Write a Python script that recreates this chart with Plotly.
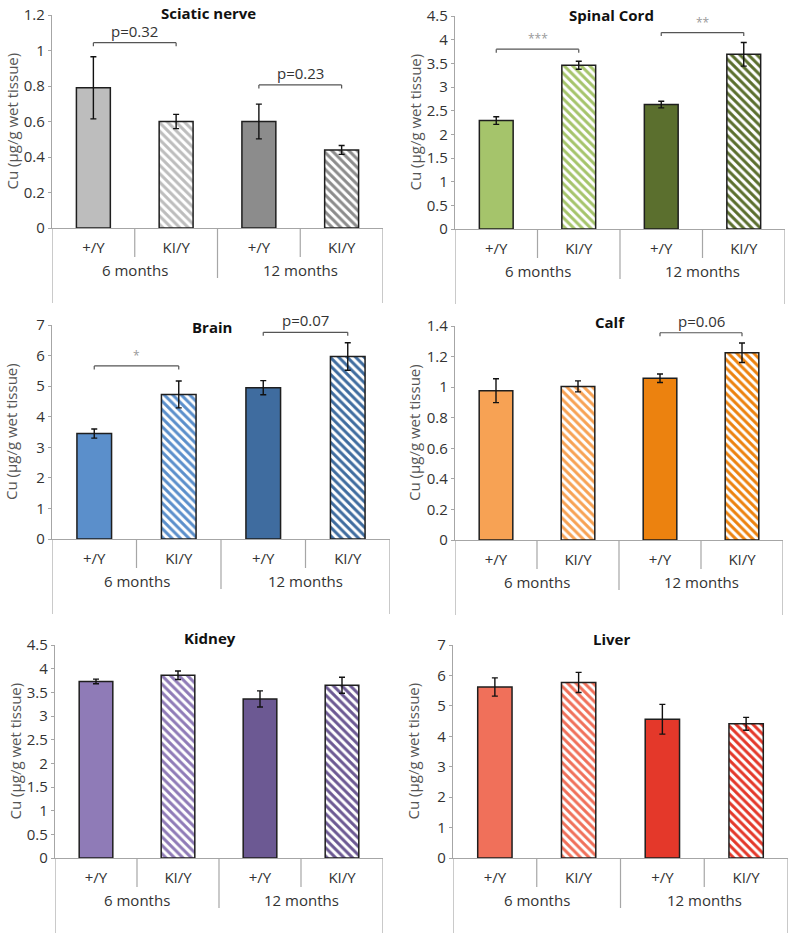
import plotly.graph_objects as go

# ---------------- data ----------------
genotypes = ["+/Y", "KI/Y", "+/Y", "KI/Y"]
ages = ["6 months", "12 months"]
tissues = ["Sciatic nerve", "Spinal Cord", "Brain", "Calf", "Kidney", "Liver"]

sciatic_mean = [0.79, 0.60, 0.60, 0.44]
sciatic_err = [0.175, 0.04, 0.098, 0.025]
spinal_mean = [2.29, 3.46, 2.63, 3.69]
spinal_err = [0.08, 0.085, 0.07, 0.25]
brain_mean = [3.45, 4.73, 4.95, 5.97]
brain_err = [0.15, 0.44, 0.23, 0.45]
calf_mean = [0.977, 1.005, 1.058, 1.225]
calf_err = [0.078, 0.036, 0.028, 0.064]
kidney_mean = [3.73, 3.86, 3.36, 3.65]
kidney_err = [0.05, 0.09, 0.17, 0.17]
liver_mean = [5.62, 5.77, 4.56, 4.41]
liver_err = [0.30, 0.33, 0.49, 0.21]

y_max = [1.2, 4.5, 7, 1.4, 4.5, 7]
y_step = [0.2, 0.5, 1, 0.2, 0.5, 1]

# significance brackets: (panel, left bar, right bar, bracket level, label)
sig_panel = [0, 0, 1, 1, 2, 2, 3]
sig_left = [0, 2, 0, 2, 0, 2, 2]
sig_right = [1, 3, 1, 3, 1, 3, 3]
sig_level = [1.044, 0.806, 3.80, 4.15, 5.66, 6.76, 1.356]
sig_label = ["p=0.32", "p=0.23", "***", "**", "*", "p=0.07", "p=0.06"]

means = [sciatic_mean, spinal_mean, brain_mean, calf_mean, kidney_mean, liver_mean]
errs = [sciatic_err, spinal_err, brain_err, calf_err, kidney_err, liver_err]

# ---------------- styling ----------------
light = ["#BDBDBD", "#A5C46B", "#5B8FCB", "#F7A254", "#8F7BB7", "#F0705A"]
dark = ["#8C8C8C", "#5B6F2E", "#3F6C9F", "#EC820F", "#6C5993", "#E4382A"]

W, H = 800, 941
# pixel geometry of each panel: (x_left, x_right, y_top, y_zero)
geom = [(52, 383, 15, 228), (455, 785, 16, 229),
        (52, 390, 325, 539), (455, 783, 326, 540),
        (55, 383, 645, 858), (453, 788, 645, 858)]
# vertical pixel shift of each panel title relative to the plot top
title_dy = [-2, -1, 2, -4, -7, -6]

FONT = "Open Sans"
AXC = "#A6A6A6"
TXT = "#333333"

fig = go.Figure()
shapes = []
annotations = []

for i in range(6):
    xl, xr, yt, yz = geom[i]
    sfx = "" if i == 0 else str(i + 1)
    xa, ya = "x" + sfx, "y" + sfx
    ph = yz - yt

    for j in range(4):
        col = light[i] if j < 2 else dark[i]
        hatched = (j % 2 == 1)
        if hatched:
            mk = dict(color="white", line=dict(color="#1e1e1e", width=1.5),
                      pattern=dict(shape="\\", fgcolor=col, bgcolor="white",
                                   fgopacity=1, size=6, solidity=0.5,
                                   fillmode="replace"))
        else:
            mk = dict(color=col, line=dict(color="#1e1e1e", width=1.5))
        fig.add_trace(go.Bar(
            x=[j], y=[means[i][j]], width=0.41, marker=mk,
            error_y=dict(type="data", array=[errs[i][j]], color="#111111",
                         thickness=1.4, width=3),
            xaxis=xa, yaxis=ya, showlegend=False, hoverinfo="skip",
        ))

    xdom = [xl / W, xr / W]
    ydom = [1 - yz / H, 1 - yt / H]
    nticks = int(round(y_max[i] / y_step[i]))
    tv = [round(k * y_step[i], 3) for k in range(nticks + 1)]
    fig.layout["xaxis" + sfx] = dict(
        domain=xdom, anchor=ya, range=[-0.5, 3.5], automargin=False,
        tickvals=[0, 1, 2, 3], ticktext=genotypes, ticks="",
        ticklabelstandoff=6, ticklabeloverflow="allow",
        showline=True, linecolor=AXC, linewidth=1.2,
        showgrid=False, zeroline=False,
        tickfont=dict(family=FONT, size=15, color=TXT), fixedrange=True)
    fig.layout["yaxis" + sfx] = dict(
        domain=ydom, anchor=xa, range=[0, y_max[i]], automargin=False,
        tickvals=tv, ticks="outside", ticklen=3, tickcolor=AXC,
        ticklabeloverflow="allow",
        showline=True, linecolor=AXC, linewidth=1.2,
        showgrid=False, zeroline=False,
        tickfont=dict(family=FONT, size=15, color=TXT),
        fixedrange=True)

    dref = ya + " domain"
    # y-axis title
    annotations.append(dict(xref=xa + " domain", yref=dref, x=0, y=0.5,
                            xshift=-41, textangle=-90, showarrow=False,
                            xanchor="center", yanchor="middle",
                            text="Cu (µg/g wet tissue)",
                            font=dict(family=FONT, size=15, color="#555555")))
    # category dividers (Excel style)
    for xv, d in [(-0.5, 75), (0.5, 29), (1.5, 50), (2.5, 29), (3.5, 75)]:
        shapes.append(dict(type="line", xref=xa, yref=dref, x0=xv, x1=xv,
                           y0=0, y1=-d / ph, line=dict(color=AXC, width=1.2)))
    for gi, g in enumerate(ages):
        annotations.append(dict(xref=xa, yref=dref, x=0.5 + 2 * gi, y=-42 / ph,
                                text=g, showarrow=False, yanchor="middle",
                                font=dict(family=FONT, size=15, color=TXT)))
    # panel title
    annotations.append(dict(xref=xa + " domain", yref=dref, x=0.5, y=1,
                            xshift=-9, yshift=-title_dy[i], yanchor="middle",
                            text="<b>" + tissues[i] + "</b>", showarrow=False,
                            font=dict(family=FONT, size=15, color="#111111")))

# significance brackets
for k in range(len(sig_panel)):
    i = sig_panel[k]
    xl, xr, yt, yz = geom[i]
    sfx = "" if i == 0 else str(i + 1)
    xa, ya = "x" + sfx, "y" + sfx
    ppu = (yz - yt) / y_max[i]
    drop = 3.5 / ppu
    lv = sig_level[k]
    a, b = sig_left[k], sig_right[k]
    lc = dict(color="#555555", width=1.2)
    shapes.append(dict(type="line", xref=xa, yref=ya, x0=a, x1=b, y0=lv, y1=lv, line=lc))
    shapes.append(dict(type="line", xref=xa, yref=ya, x0=a, x1=a, y0=lv, y1=lv - drop, line=lc))
    shapes.append(dict(type="line", xref=xa, yref=ya, x0=b, x1=b, y0=lv, y1=lv - drop, line=lc))
    star = sig_label[k].startswith("*")
    annotations.append(dict(xref=xa, yref=ya, x=(a + b) / 2, y=lv,
                            yanchor="bottom", yshift=0,
                            text=sig_label[k], showarrow=False,
                            font=dict(family=FONT, size=(12 if star else 15),
                                      color=("#9a9a9a" if star else TXT))))

fig.update_layout(
    width=W, height=H, margin=dict(l=0, r=0, t=0, b=0, autoexpand=False),
    paper_bgcolor="white", plot_bgcolor="white",
    shapes=shapes, annotations=annotations,
    barmode="overlay",
)

fig.write_html("out.html",
               config={"displayModeBar": False, "staticPlot": True},
               post_script="document.body.style.margin='0px';"
                           "document.body.style.overflow='hidden';")
